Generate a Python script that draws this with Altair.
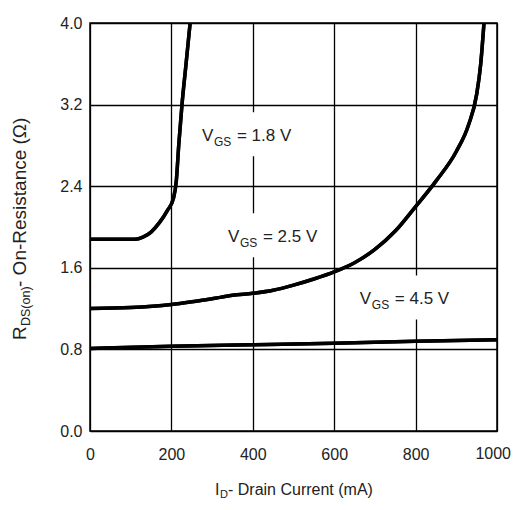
import altair as alt
import pandas as pd

# ---- data ----
id_18 = [0, 60, 110, 130, 150, 170, 190, 205, 212, 218, 226, 236, 246]
r_18 = [1.88, 1.88, 1.88, 1.90, 1.95, 2.04, 2.16, 2.28, 2.45, 2.80, 3.20, 3.60, 4.00]

id_25 = [0, 100, 200, 320, 350, 400, 450, 500, 550, 600, 650, 700, 750, 800, 850, 900, 930, 950, 960, 968]
r_25 = [1.20, 1.21, 1.24, 1.31, 1.33, 1.35, 1.38, 1.43, 1.49, 1.56, 1.65, 1.78, 1.96, 2.20, 2.45, 2.74, 3.00, 3.30, 3.60, 4.00]

id_45 = [0, 200, 400, 600, 800, 1000]
r_45 = [0.81, 0.83, 0.845, 0.86, 0.88, 0.895]

label_main = ["V", "V", "V"]
label_sub = ["GS", "GS", "GS"]
label_rest = ["= 1.8 V", "= 2.5 V", "= 4.5 V"]
label_x = [275, 339, 663]
label_y = [2.89, 1.90, 1.29]

x_ticks = [0, 200, 400, 600, 800, 1000]
y_ticks = [0.0, 0.8, 1.6, 2.4, 3.2, 4.0]

rows = []
for name, xs, ys in [("1.8", id_18, r_18), ("2.5", id_25, r_25), ("4.5", id_45, r_45)]:
    for i, (a, b) in enumerate(zip(xs, ys)):
        rows.append({"vgs": name, "order": i, "id": a, "r": b})
curves = pd.DataFrame(rows)

labels = pd.DataFrame({"main": label_main, "sub": label_sub, "rest": label_rest,
                       "lx": label_x, "ly": label_y})

last_tick = pd.DataFrame({"t": [x_ticks[-1]], "lab": [str(x_ticks[-1])]})

FONT = "Liberation Sans"
INK = "#222222"

xscale = alt.Scale(domain=[0, 1000], nice=False, zero=True)
yscale = alt.Scale(domain=[0, 4], nice=False, zero=True)

xaxis = alt.Axis(values=x_ticks, title=None, grid=True, gridColor="black", gridWidth=1.3,
                 gridOpacity=1, ticks=False, domain=False, labelFont=FONT, labelFontSize=16,
                 labelColor=INK, labelPadding=15, labelFlush=False, format="d",
                 labelExpr="datum.value == 1000 ? '' : datum.label")
yaxis = alt.Axis(values=y_ticks, title=None, grid=True, gridColor="black", gridWidth=1.3,
                 gridOpacity=1, ticks=False, domain=False, labelFont=FONT, labelFontSize=16,
                 labelColor=INK, labelPadding=8, format=".1f")

lines = alt.Chart(curves).mark_line(color="black", strokeWidth=3.5, interpolate="monotone",
                                    clip=True).encode(
    x=alt.X("id:Q", scale=xscale, axis=xaxis),
    y=alt.Y("r:Q", scale=yscale, axis=yaxis),
    detail="vgs:N",
    order="order:Q",
)

# last x tick label, kept inside the page edge
end_label = alt.Chart(last_tick).mark_text(
    align="right", baseline="top", font=FONT, fontSize=16, color=INK, dx=14
).encode(x=alt.X("t:Q", scale=xscale), y=alt.value(423), text="lab:N")

base_lab = alt.Chart(labels).encode(
    x=alt.X("lx:Q", scale=xscale),
    y=alt.Y("ly:Q", scale=yscale),
)

boxes = base_lab.mark_point(
    shape="M-0.12,-0.48L1.9,-0.48L1.9,0.4L-0.12,0.4Z",
    size=10000, filled=True, fill="white", opacity=1, strokeWidth=0,
)

t_main = base_lab.mark_text(align="left", baseline="middle", font=FONT, fontSize=17,
                            color=INK).encode(text="main:N")
t_sub = base_lab.mark_text(align="left", baseline="middle", font=FONT, fontSize=12,
                           color=INK, dx=12, dy=6).encode(text="sub:N")
t_rest = base_lab.mark_text(align="left", baseline="middle", font=FONT, fontSize=17,
                            color=INK, dx=35).encode(text="rest:N")

# axis titles with subscripts (pixel positions relative to the plot area)
def txt(s, x, y, size, angle=0):
    kw = dict(align="left", baseline="middle", font=FONT, fontSize=size, color=INK, text=s)
    if angle:
        kw["angle"] = angle
    return alt.Chart(pd.DataFrame({"a": [0]})).mark_text(**kw).encode(
        x=alt.value(x), y=alt.value(y))

xt = [
    txt("I", 125, 467, 16),
    txt("D", 130, 472, 11),
    txt(" - Drain Current (mA)", 138, 467, 16),
]
yt = [
    txt("R", -70, 317, 19, 270),
    txt("DS(on)", -64, 303, 12.5, 270),
    txt(" - On-Resistance (\u03a9)", -70, 264, 19, 270),
]

chart = alt.layer(lines, boxes, lines, end_label, t_main, t_sub, t_rest, *xt, *yt).properties(
    width=407, height=408,
    autosize=alt.AutoSizeParams(type="none"),
    padding={"left": 82, "top": 15, "right": 14, "bottom": 70},
).configure_view(stroke="black", strokeWidth=1.5)

chart.save("out.html", embed_options={"renderer": "svg", "actions": False})
